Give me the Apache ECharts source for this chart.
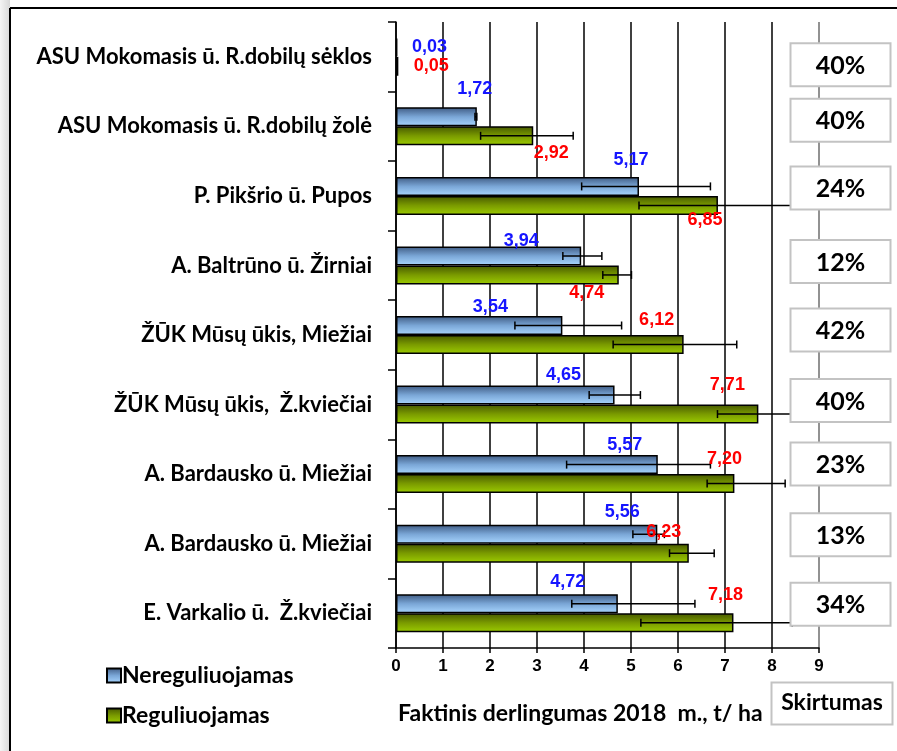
<!DOCTYPE html>
<html>
<head>
<meta charset="utf-8">
<script src="https://cdn.jsdelivr.net/npm/echarts@6/dist/echarts.min.js"></script>
<style>
  html, body { margin: 0; padding: 0; background: #fff; }
  #main { width: 897px; height: 751px; }
</style>
</head>
<body>
<div id="main"></div>
<script>
// duomenys
var categories = [
  'ASU Mokomasis ū. R.dobilų sėklos',
  'ASU Mokomasis ū. R.dobilų žolė',
  'P. Pikšrio ū. Pupos',
  'A. Baltrūno ū. Žirniai',
  'ŽŪK Mūsų ūkis, Miežiai',
  'ŽŪK Mūsų ūkis,  Ž.kviečiai',
  'A. Bardausko ū. Miežiai',
  'A. Bardausko ū. Miežiai',
  'E. Varkalio ū.  Ž.kviečiai'
];
var nereg = [0.03, 1.72, 5.17, 3.94, 3.54, 4.65, 5.57, 5.56, 4.72];
var reg = [0.05, 2.92, 6.85, 4.74, 6.12, 7.71, 7.20, 6.23, 7.18];
// paklaidos (nuo, iki)
var neregLow = [null, 1.68, 3.95, 3.55, 2.53, 4.11, 3.63, 5.04, 3.74];
var neregHigh = [null, 1.72, 6.69, 4.38, 4.80, 5.20, 6.69, 5.71, 6.36];
var regLow = [null, 1.80, 5.17, 4.40, 4.62, 6.84, 6.62, 5.82, 5.21];
var regHigh = [null, 3.77, 8.74, 5.01, 7.25, 8.60, 8.28, 6.77, 8.43];
var skirtumas = ['40%', '40%', '24%', '12%', '42%', '40%', '23%', '13%', '34%'];
var xTicks = [0, 1, 2, 3, 4, 5, 6, 7, 8, 9];

// etikečių poslinkiai (px) nuo stulpelio galo
var neregLabelShift = [[32, 0], [-2, -28], [-8, -26], [-60, -15], [-72, -18], [-51, -20], [-33, -20], [-35, -22], [-50, -22]];
var regLabelShift = [[33, 0], [18, 17], [-13, 15], [-32, 18], [-27, -24], [-31, -29], [-10, -25], [-25, -21], [-8, -28]];
var boxShift = [8, -6, -8, -4, -5, -4, -10, -9, -9];

var BAR_W = 19;
var FONT = 'Lato, "Open Sans", sans-serif';

var dom = document.getElementById('main');
var myChart = echarts.init(dom);

function errSeries(low, high, sign) {
  var d = [];
  for (var i = 0; i < low.length; i++) {
    if (low[i] != null) d.push([i, low[i], high[i]]);
  }
  return {
    type: 'custom',
    z: 5,
    silent: true,
    data: d,
    encode: { x: [1, 2], y: 0 },
    renderItem: function (params, api) {
      var i = api.value(0);
      var a = api.coord([api.value(1), i]);
      var b = api.coord([api.value(2), i]);
      var y = a[1] + sign * BAR_W / 2;
      var st = { stroke: '#000', lineWidth: 1.5 };
      return {
        type: 'group',
        children: [
          { type: 'line', shape: { x1: a[0], y1: y, x2: b[0], y2: y }, style: st },
          { type: 'line', shape: { x1: a[0], y1: y - 4, x2: a[0], y2: y + 4 }, style: st },
          { type: 'line', shape: { x1: b[0], y1: y - 4, x2: b[0], y2: y + 4 }, style: st }
        ]
      };
    }
  };
}

function labelSeries(vals, shift, sign, color) {
  var d = vals.map(function (v, i) { return [i, v]; });
  return {
    type: 'custom',
    z: 6,
    silent: true,
    data: d,
    encode: { x: 1, y: 0 },
    renderItem: function (params, api) {
      var i = api.value(0);
      var v = api.value(1);
      var p = api.coord([v, i]);
      var s = shift[i];
      return {
        type: 'text',
        x: p[0] + s[0],
        y: p[1] + sign * BAR_W / 2 + s[1],
        style: {
          text: v.toFixed(2).replace('.', ','),
          fill: color,
          font: 'bold 18px "Liberation Sans", Arial, sans-serif',
          align: 'center',
          verticalAlign: 'middle'
        }
      };
    }
  };
}

var boxSeries = {
  type: 'custom',
  z: 10,
  silent: true,
  data: skirtumas.map(function (t, i) { return [i, 0]; }),
  encode: { x: 1, y: 0 },
  clip: false,
  renderItem: function (params, api) {
    var i = api.value(0);
    var p = api.coord([0, i]);
    var cy = p[1] + boxShift[i];
    return {
      type: 'group',
      children: [
        { type: 'rect', shape: { x: 790.5, y: cy - 21.5, width: 100, height: 43 },
          style: { fill: '#fff', stroke: '#c3c3c3', lineWidth: 2 } },
        { type: 'text', x: 840.5, y: cy + 1,
          style: { text: skirtumas[i], fill: '#000', font: 'bold 25px ' + FONT,
                   align: 'center', verticalAlign: 'middle' } }
      ]
    };
  }
};

var gridColors = xTicks.map(function (t) { return t === 9 ? '#6e6e6e' : '#000'; });

option = {
  animation: false,
  backgroundColor: '#fff',
  legend: {
    orient: 'vertical',
    left: 101,
    top: 659,
    itemWidth: 14,
    itemHeight: 14,
    itemGap: 17,
    icon: 'rect',
    textStyle: { fontFamily: FONT, fontWeight: 'bold', fontSize: 23, color: '#000', padding: [0, 0, 0, -4] },
    data: ['Nereguliuojamas', 'Reguliuojamas']
  },
  grid: {
    left: 396,
    top: 22,
    width: 423,
    height: 626,
    containLabel: false
  },
  xAxis: {
    type: 'value',
    min: 0,
    max: 9,
    interval: 1,
    axisLine: { show: true, lineStyle: { color: '#000', width: 1.5 } },
    axisTick: { show: true, length: 5, lineStyle: { color: '#000', width: 1.5 } },
    axisLabel: {
      margin: 10,
      color: '#000',
      fontFamily: '"Liberation Sans", Arial, sans-serif',
      fontWeight: 'bold',
      fontSize: 17
    },
    splitLine: { show: true, lineStyle: { color: gridColors, width: 1.5 } }
  },
  yAxis: {
    type: 'category',
    inverse: true,
    data: categories,
    axisLine: { show: true, lineStyle: { color: '#000', width: 1.5 } },
    axisTick: { show: true, length: 8, lineStyle: { color: '#000', width: 1.5 } },
    axisLabel: {
      margin: 24,
      color: '#000',
      fontFamily: FONT,
      fontWeight: 'bold',
      fontSize: 22
    },
    splitLine: { show: false }
  },
  graphic: [
    { type: 'rect', z: -10, shape: { x: 0, y: 0, width: 10, height: 751 },
      style: { fill: new echarts.graphic.LinearGradient(0, 0, 1, 0, [
        { offset: 0, color: '#f4f4f4' }, { offset: 1, color: '#d8d8d8' }]) } },
    { type: 'line', shape: { x1: 10, y1: 8, x2: 10, y2: 751 }, style: { stroke: '#000', lineWidth: 2 } },
    { type: 'line', shape: { x1: 10, y1: 8, x2: 897, y2: 8 }, style: { stroke: '#000', lineWidth: 2 } },
    { type: 'text', left: 398, top: 702,
      style: { text: 'Faktinis derlingumas 2018  m., t/ ha', fill: '#000', font: 'bold 23px ' + FONT } },
    { type: 'rect', shape: { x: 771.5, y: 682.5, width: 121, height: 42 },
      style: { fill: '#fff', stroke: '#c3c3c3', lineWidth: 2 } },
    { type: 'text', x: 832, y: 703,
      style: { text: 'Skirtumas', fill: '#000', font: 'bold 23px ' + FONT, align: 'center', verticalAlign: 'middle' } }
  ],
  series: [
    {
      name: 'Nereguliuojamas',
      type: 'bar',
      data: nereg,
      barWidth: BAR_W,
      barGap: '0%',
      itemStyle: {
        color: new echarts.graphic.LinearGradient(0, 0, 0, 1, [
          { offset: 0, color: '#3e5a82' },
          { offset: 0.5, color: '#7aa6d6' },
          { offset: 1, color: '#a9d6ff' }
        ]),
        borderColor: '#000',
        borderWidth: 1.5
      }
    },
    {
      name: 'Reguliuojamas',
      type: 'bar',
      data: reg,
      barWidth: BAR_W,
      barGap: '0%',
      itemStyle: {
        color: new echarts.graphic.LinearGradient(0, 0, 0, 1, [
          { offset: 0, color: '#465800' },
          { offset: 0.5, color: '#7a9a00' },
          { offset: 1, color: '#9ccc00' }
        ]),
        borderColor: '#000',
        borderWidth: 1.5
      }
    },
    errSeries(neregLow, neregHigh, -1),
    errSeries(regLow, regHigh, 1),
    labelSeries(nereg, neregLabelShift, -1, '#1515ff'),
    labelSeries(reg, regLabelShift, 1, '#ff0000'),
    boxSeries
  ]
};

if (option && typeof option === "object") {
  myChart.setOption(option, true);
}
</script>
</body>
</html>
